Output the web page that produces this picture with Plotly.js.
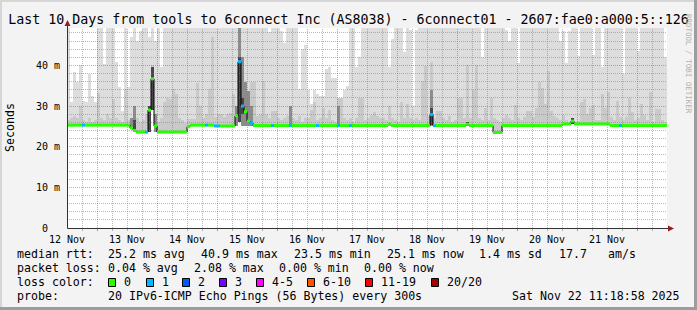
<!DOCTYPE html>
<html><head><meta charset="utf-8">
<script src="https://cdn.plot.ly/plotly-3.0.1.min.js"></script>
<style>
html,body{margin:0;padding:0;background:#f3f3f3;}
#chart{width:697px;height:310px;}
.barlayer path{shape-rendering:crispEdges;}
.tracegridminor path.js-line,.tracegridmajor path.js-line{shape-rendering:crispEdges;}
</style>
</head><body><div id="chart"></div>
<script>
// ---------- data ----------
const dayLabels = ['12 Nov','13 Nov','14 Nov','15 Nov','16 Nov','17 Nov','18 Nov','19 Nov','20 Nov','21 Nov'];
const bucketHours = 1.2; // each value covers 72 minutes, starting 12 Nov 00:00

// median rtt per bucket (ms)
const medianMs = [
 25.3,25.3,25.3,25.3,25.3,25.3,25.3,25.3,25.3,25.3,25.3,25.3,25.3,25.3,25.3,25.3,25.3,25.3,25.3,25.3,
 25.3,24.6,24.0,23.6,23.6,23.6,23.6,29.0,36.7,25.1,23.6,23.6,23.6,23.6,23.6,23.6,23.6,23.6,23.6,23.6,
 24.9,25.3,25.3,25.3,25.3,25.3,25.3,25.3,25.3,25.1,25.1,25.1,25.1,25.1,25.1,25.1,27.6,40.9,30.0,28.6,
 26.3,25.8,25.2,25.2,25.2,25.2,25.2,25.2,25.2,25.2,25.2,25.2,25.2,25.2,25.2,25.2,25.2,25.2,25.2,25.2,
 25.2,25.2,25.2,25.2,25.2,25.2,25.2,25.2,25.2,25.2,25.2,25.2,25.2,25.2,25.2,25.2,25.2,25.2,25.2,25.2,
 25.2,25.2,25.2,25.2,25.2,25.2,25.2,25.5,25.2,25.2,25.2,25.2,25.2,25.2,25.2,25.2,25.2,25.2,25.2,25.2,
 25.2,27.9,25.2,25.2,25.2,25.2,25.2,25.2,25.2,25.2,25.2,25.2,25.2,25.5,25.2,25.2,25.2,25.2,25.2,25.2,
 25.2,25.2,23.5,23.5,23.5,25.2,25.2,25.2,25.2,25.2,25.2,25.2,25.2,25.2,25.2,25.2,25.2,25.2,25.2,25.2,
 25.2,25.2,25.2,25.2,25.2,25.6,25.6,25.6,26.3,25.6,25.6,25.6,25.6,25.6,25.6,25.6,25.6,25.6,25.6,25.6,
 25.6,25.2,25.2,25.2,25.2,25.2,25.2,25.2,25.2,25.2,25.2,25.2,25.2,25.2,25.2,25.2,25.2,25.2,25.2,25.2
];
// highest ping per bucket (ms) - outer smoke
const maxMs = [
 49.5,31.0,38.3,36.0,40.0,31.3,31.0,37.9,32.5,31.0,49.5,49.5,40.3,49.5,49.5,49.5,40.8,34.7,28.8,49.5,
 34.7,47.0,49.5,46.0,48.5,49.5,49.5,47.0,49.5,46.0,49.5,39.6,49.5,49.5,49.5,49.5,49.5,49.5,49.5,49.5,
 49.5,49.5,49.5,49.5,49.5,49.5,49.5,49.5,49.5,49.5,49.5,49.5,49.5,49.5,49.5,49.5,49.5,49.5,49.5,49.5,
 49.5,49.5,49.5,49.5,49.5,49.5,49.5,48.3,49.5,49.5,49.5,48.5,45.6,49.5,49.5,49.5,49.5,34.2,44.0,45.0,
 34.0,30.5,34.0,33.0,32.5,32.5,39.0,39.7,37.0,37.0,32.0,32.0,34.0,35.0,49.5,49.5,39.5,42.0,49.5,49.5,
 49.5,49.5,49.5,49.5,49.5,49.5,49.5,39.7,46.6,49.5,49.5,49.5,43.4,49.5,48.8,30.1,48.8,49.5,49.5,49.5,
 49.5,49.5,49.5,49.5,49.5,49.5,49.5,49.5,49.5,49.5,49.5,49.5,49.5,49.5,49.5,49.5,49.5,49.5,42.0,49.5,
 49.5,49.5,49.5,49.5,49.5,49.5,48.8,46.0,49.5,49.5,40.6,49.5,49.5,49.5,49.5,49.5,49.5,49.5,49.5,49.5,
 49.5,49.5,49.5,49.5,46.0,48.5,40.6,48.5,49.5,49.5,42.4,49.5,49.5,49.5,49.5,42.5,49.5,49.5,39.7,49.5,
 49.5,49.5,49.5,49.5,49.5,37.9,49.5,49.5,49.5,49.5,43.5,49.5,49.5,49.5,49.5,49.5,49.5,49.5,49.5,42.0
];
// upper edge of the denser inner smoke per bucket (ms)
const midMs = [
 26.5,27.0,27.5,27.0,30.0,26.5,26.0,27.0,26.0,26.5,33.3,27.0,26.5,28.0,27.0,31.8,27.0,26.5,26.0,34.3,
 26.5,27.0,30.0,27.0,26.0,26.5,28.0,30.0,40.0,28.0,26.0,27.0,31.0,32.0,31.7,34.2,33.0,27.0,26.5,25.8,
 26.8,26.7,26.7,35.6,30.0,27.0,28.0,34.3,47.0,27.3,28.0,28.0,27.3,28.0,28.3,33.0,30.0,49.5,42.0,36.0,
 33.8,35.9,35.9,27.5,28.0,36.2,28.0,27.0,28.7,28.7,27.0,26.5,27.0,27.5,29.9,27.0,26.5,27.5,26.0,27.0,
 27.0,29.0,31.0,26.5,27.0,29.5,27.0,29.0,26.5,26.0,32.5,32.5,27.0,26.5,27.0,26.0,27.0,32.0,32.0,26.5,
 27.0,27.8,28.5,27.5,27.0,27.0,26.5,30.0,27.0,26.5,26.0,31.0,27.0,30.5,27.0,26.5,27.0,26.5,36.2,39.9,
 27.5,40.8,27.0,28.8,28.8,27.0,26.5,27.5,26.0,26.5,32.0,32.0,27.0,40.0,27.0,34.0,40.0,27.0,26.5,29.5,
 26.5,32.1,27.0,26.5,26.0,27.0,27.8,27.0,26.5,30.3,27.0,26.5,27.4,28.8,28.8,27.4,29.6,36.0,34.4,30.5,
 38.7,28.8,27.5,27.0,26.5,27.8,26.5,26.0,26.5,26.0,26.3,30.9,31.7,28.0,29.4,30.3,26.5,26.5,33.0,29.6,
 33.4,27.4,26.5,31.3,27.4,26.5,27.4,31.9,28.5,26.5,27.0,30.5,27.8,26.5,33.4,26.0,29.2,29.2,26.5,26.0
];
// dense smoke (sparse)
const denseBucket = [21, 22, 29, 56, 57, 58, 59, 60, 61, 74, 90, 121];
const denseLo     = [24.6,24.0,23.6,25.2,42.0,25.2,25.2,25.2,25.2,25.2,25.2,25.2];
const denseHi     = [27.0,30.0,28.0,30.0,49.5,42.0,36.0,33.8,30.0,29.9,30.0,34.0];
// very dense smoke (sparse)
const coreBucket = [22, 27, 28, 57, 58, 121, 133, 168];
const coreLo     = [24.0,23.6,29.0,26.0,28.0,25.4,25.2,25.6];
const coreHi     = [26.5,30.0,39.5,42.0,32.0,29.5,26.0,27.0];
// lost pings (of 20) per bucket, sparse
const lossBucket = [5, 26, 46, 49, 50, 57, 58, 61, 68, 74, 83, 90, 94, 121, 122, 184];
const lossCount  = [1, 1, 1, 1, 1, 1, 1, 1, 1, 1, 1, 1, 1, 1, 1, 1];

const yTickVals = [0, 10, 20, 30, 40];
const yTickText = ['0\u00a0\u00a0', '10 m', '20 m', '30 m', '40 m'];
const lossLabels = ['0', '1', '2', '3', '4-5', '6-10', '11-19', '20/20'];
const lossColors = ['#26ff00', '#00b8ff', '#0059ff', '#7e00ff', '#ff00ff', '#ff5500', '#ff0000', '#a10000'];
const statsRtt  = ['median rtt:', '25.2 ms avg', '40.9 ms max', '23.5 ms min', '25.1 ms now', '1.4 ms sd', '17.7', 'am/s'];
const statsLoss = ['packet loss:', '0.04 % avg', '2.08 % max', '0.00 % min', '0.00 % now'];
const probeText = ['probe:', '20 IPv6-ICMP Echo Pings (56 Bytes) every 300s', 'Sat Nov 22 11:18:58 2025'];
const titleText = 'Last 10 Days from tools to 6connect Inc (AS8038) - 6connect01 - 2607:fae0:a000:5::126';

// ---------- build ----------
const t = medianMs.map((_, i) => i * bucketHours);
const FAM = 'DejaVu Sans Mono, monospace';
const YMAX = 49.2;

function lossClass(n) {
  if (n <= 0) return 0; if (n === 1) return 1; if (n === 2) return 2; if (n === 3) return 3;
  if (n <= 5) return 4; if (n <= 10) return 5; if (n <= 19) return 6; return 7;
}
const lossPer = medianMs.map(() => 0);
lossBucket.forEach((b, k) => { lossPer[b] = lossCount[k]; });

const traces = [];
traces.push({type:'bar', x:t, base:medianMs, y:maxMs.map((v,i)=>Math.max(0,v-medianMs[i])),
  width:bucketHours, offset:0, marker:{color:'#dddddd', line:{width:0}}, hoverinfo:'skip'});
traces.push({type:'bar', x:t, base:medianMs, y:midMs.map((v,i)=>Math.max(0,Math.min(v,maxMs[i])-medianMs[i])),
  width:bucketHours, offset:0, marker:{color:'#c9c9c9', line:{width:0}}, hoverinfo:'skip'});
traces.push({type:'bar', x:denseBucket.map(b=>t[b]), base:denseLo, y:denseHi.map((v,k)=>v-denseLo[k]),
  width:bucketHours, offset:0, marker:{color:'#8c8c8c', line:{width:0}}, hoverinfo:'skip'});
traces.push({type:'bar', x:coreBucket.map(b=>t[b]), base:coreLo, y:coreHi.map((v,k)=>v-coreLo[k]),
  width:bucketHours, offset:0, marker:{color:'#474747', line:{width:0}}, hoverinfo:'skip'});

function gridTrace(major, uid, color) {
  const gx = [], gy = [];
  for (let h = 6; h < 240; h += 6) {
    if ((h % 24 === 12) !== major) continue;
    gx.push(h + 0.2, h + 0.2, null); gy.push(0, YMAX, null);
  }
  for (let v = 2; v < YMAX; v += 2) {
    if ((v % 10 === 0) !== major) continue;
    gx.push(0, 240, null); gy.push(v, v, null);
  }
  return {type:'scatter', mode:'lines', uid, x:gx, y:gy, line:{color, width:1, dash:'1px,1px'}, hoverinfo:'skip'};
}
traces.push(gridTrace(false, 'gridminor', 'rgba(130,130,130,0.55)'));
traces.push(gridTrace(true, 'gridmajor', 'rgba(210,40,40,0.45)'));

const vx = [], vy = [];
for (let i = 0; i < medianMs.length - 1; i++) {
  if (medianMs[i] !== medianMs[i+1]) { vx.push(t[i+1], t[i+1], null); vy.push(medianMs[i], medianMs[i+1], null); }
}
traces.push({type:'scatter', mode:'lines', x:vx, y:vy, line:{color:'#000', width:1}, hoverinfo:'skip'});
for (let c = 0; c < lossColors.length; c++) {
  const sx = [], sy = [];
  medianMs.forEach((m, i) => { if (lossClass(lossPer[i]) === c) { sx.push(t[i], t[i] + bucketHours, null); sy.push(m, m, null); } });
  if (sx.length) traces.push({type:'scatter', mode:'lines', x:sx, y:sy, line:{color:lossColors[c], width:3}, hoverinfo:'skip'});
}

// ---------- layout ----------
const L = 67, R = 667, T = 28, B = 228;
const px = p => (p - L) / (R - L);
const py = p => (B - p) / (B - T);
const ann = [];
function txt(text, x, y, o) {
  ann.push(Object.assign({xref:'paper', yref:'paper', x:px(x), y:py(y), text, showarrow:false,
    xanchor:'left', yanchor:'middle', borderpad:0, font:{family:FAM, size:11.6, color:'#000'}}, o || {}));
}
const rttX = [16, 107, 200, 293, 386, 478, 558, 607];
statsRtt.forEach((s, k) => txt(s, rttX[k], 254));
const lossX = [16, 107, 193, 278, 363];
statsLoss.forEach((s, k) => txt(s, lossX[k], 268));
txt('loss color:', 16, 282);
const boxX = [108, 146, 182, 219, 256, 307, 365, 431];
const shapes = [];
lossLabels.forEach((s, k) => {
  txt(s, boxX[k] + 15, 282);
  shapes.push({type:'rect', xref:'paper', yref:'paper', x0:px(boxX[k]+0.5), x1:px(boxX[k]+7.5), y0:py(278.5), y1:py(286.5),
    fillcolor:lossColors[k], line:{color:'#000', width:1}, layer:'above'});
});
txt(probeText[0], 16, 296);
txt(probeText[1], 107, 296);
txt(probeText[2], 681, 296, {xanchor:'right'});
txt('Seconds', 10, 128, {xanchor:'center', textangle:-90});
txt('RRDTOOL / TOBI OETIKER', 689, 64, {xanchor:'center', textangle:90, font:{family:FAM, size:7.5, color:'#b0b0b0'}});

const axisCol = '#333333', arrowCol = '#9b1c1c';
shapes.push({type:'line', xref:'paper', yref:'paper', x0:px(67.5), x1:px(670), y0:py(228.5), y1:py(228.5), line:{color:axisCol, width:1}, layer:'above'});
shapes.push({type:'line', xref:'paper', yref:'paper', x0:px(67.5), x1:px(67.5), y0:py(228.5), y1:py(24), line:{color:axisCol, width:1}, layer:'above'});
shapes.push({type:'path', xref:'paper', yref:'paper', path:`M${px(64.5)},${py(26)} L${px(70.5)},${py(26)} L${px(67.5)},${py(20)} Z`, fillcolor:arrowCol, line:{width:0}, layer:'above'});
shapes.push({type:'path', xref:'paper', yref:'paper', path:`M${px(668)},${py(225.5)} L${px(668)},${py(231.5)} L${px(674)},${py(228.5)} Z`, fillcolor:arrowCol, line:{width:0}, layer:'above'});
for (let h = 6; h < 240; h += 6) {
  const major = h % 24 === 12;
  const p = L + h * 2.5 + 0.5;
  shapes.push({type:'line', xref:'paper', yref:'paper', x0:px(p), x1:px(p), y0:py(229), y1:py(231),
    line:{color: major ? 'rgba(210,40,40,0.6)' : 'rgba(130,130,130,0.6)', width:1}, layer:'above'});
}
shapes.push({type:'rect', xref:'paper', yref:'paper', x0:px(0), x1:px(697), y0:py(0), y1:py(2), fillcolor:'#d6d6d6', line:{width:0}, layer:'above'});
shapes.push({type:'rect', xref:'paper', yref:'paper', x0:px(0), x1:px(2), y0:py(0), y1:py(310), fillcolor:'#d6d6d6', line:{width:0}, layer:'above'});
shapes.push({type:'rect', xref:'paper', yref:'paper', x0:px(694), x1:px(697), y0:py(0), y1:py(310), fillcolor:'#9d9d9d', line:{width:0}, layer:'above'});
shapes.push({type:'rect', xref:'paper', yref:'paper', x0:px(0), x1:px(697), y0:py(307), y1:py(310), fillcolor:'#9d9d9d', line:{width:0}, layer:'above'});

const layout = {
  width:697, height:310,
  margin:{l:L, r:697-R, t:T, b:310-B, pad:0},
  paper_bgcolor:'#f3f3f3', plot_bgcolor:'#ffffff',
  showlegend:false, barmode:'overlay',
  title:{text:titleText, font:{family:FAM, size:13.3, color:'#000'}, x:0.5, xanchor:'center', xref:'container', y:1-19/310, yanchor:'middle', yref:'container'},
  xaxis:{range:[0,240], showgrid:false, zeroline:false, showline:false, tickmode:'array',
    tickvals:dayLabels.map((_, i) => i*24), ticktext:dayLabels, ticks:'', ticklabelstandoff:4,
    tickfont:{family:FAM, size:10, color:'#000'}, fixedrange:true},
  yaxis:{range:[0,YMAX], showgrid:false, zeroline:false, showline:false, tickmode:'array',
    tickvals:yTickVals, ticktext:yTickText, ticks:'', ticklabelstandoff:6,
    tickfont:{family:FAM, size:10, color:'#000'}, fixedrange:true},
  annotations:ann, shapes:shapes
};
Plotly.newPlot('chart', traces, layout, {staticPlot:true, displayModeBar:false});
</script>
</body></html>
